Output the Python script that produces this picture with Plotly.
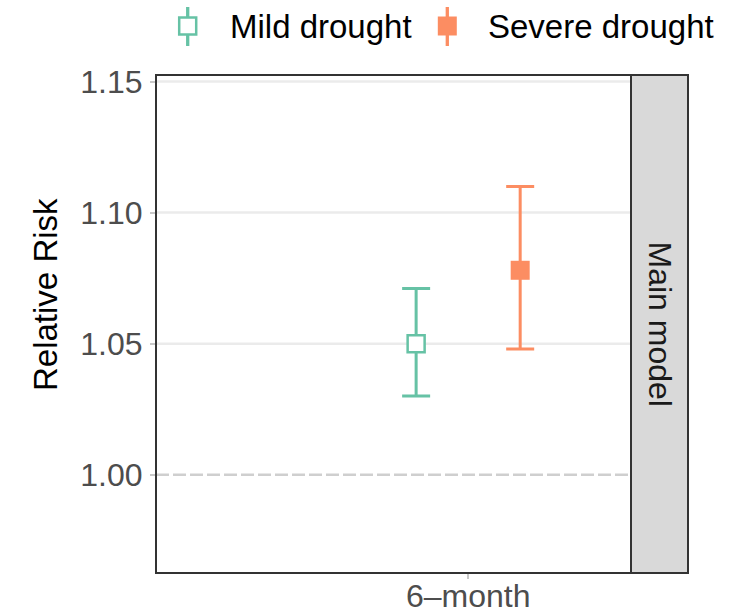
import plotly.graph_objects as go

# Relative risk estimates by drought severity
categories = ["6–month"]
groups = ["Mild drought", "Severe drought"]
rr = [1.050, 1.078]
rr_lower = [1.030, 1.048]
rr_upper = [1.071, 1.110]
y_ticks = [1.00, 1.05, 1.10, 1.15]
y_tick_labels = ["1.00", "1.05", "1.10", "1.15"]
reference_value = 1.00
facet_label = "Main model"
y_title = "Relative Risk"

colors = ["#66C2A5", "#FC8D62"]
fills = ["white", "#FC8D62"]
FONT = "Liberation Sans, Arial, sans-serif"

W, H = 736, 615
M_L, M_R, M_T, M_B = 156, 48, 75, 42
plot_w = W - M_L - M_R
plot_h = H - M_T - M_B
panel_right_px = 631
x_dom_end = (panel_right_px - M_L) / plot_w


def px_x(px):
    return (px - M_L) / plot_w


def px_y(py):
    return (M_T + plot_h - py) / plot_h


dodge = 0.4
fig = go.Figure()

for i, g in enumerate(groups):
    xpos = 0 + (i - (len(groups) - 1) / 2) * dodge
    fig.add_trace(go.Scatter(
        x=[xpos], y=[rr[i]],
        mode="markers",
        name=g,
        showlegend=False,
        marker=dict(symbol="square", size=17 if i == 0 else 19,
                    color=fills[i],
                    line=dict(color=colors[i], width=2.5 if i == 0 else 0)),
        error_y=dict(type="data", symmetric=False,
                     array=[rr_upper[i] - rr[i]],
                     arrayminus=[rr[i] - rr_lower[i]],
                     color=colors[i], thickness=3, width=14),
    ))

shapes = []
# horizontal grid lines
for v in y_ticks:
    if v == reference_value:
        continue
    shapes.append(dict(type="line", xref="x domain", yref="y",
                       x0=0, x1=1, y0=v, y1=v,
                       line=dict(color="#EBEBEB", width=2.5), layer="below"))
# reference line
shapes.append(dict(type="line", xref="x domain", yref="y",
                   x0=0, x1=1, y0=reference_value, y1=reference_value,
                   line=dict(color="#CFCFCF", width=2.5, dash="13px,4px"),
                   layer="below"))
# panel border
shapes.append(dict(type="rect", xref="x domain", yref="y domain",
                   x0=0, x1=1, y0=0, y1=1,
                   line=dict(color="#333333", width=2), fillcolor="rgba(0,0,0,0)"))
# facet strip
shapes.append(dict(type="rect", xref="paper", yref="paper",
                   x0=x_dom_end, x1=1, y0=0, y1=1,
                   line=dict(color="#333333", width=2), fillcolor="#D9D9D9"))

annotations = [
    dict(text=facet_label, xref="paper", yref="paper",
         x=(x_dom_end + 1) / 2, y=0.5, textangle=90,
         showarrow=False, xanchor="center", yanchor="middle",
         font=dict(family=FONT, size=32, color="#1A1A1A")),
    dict(text=y_title, xref="paper", yref="paper",
         x=px_x(45), y=px_y(295), textangle=-90,
         showarrow=False, xanchor="center", yanchor="middle",
         font=dict(family=FONT, size=33, color="#000000")),
]

# legend drawn at the top: point-range glyph + label
legend_glyph_x = [187.7, 447.3]
legend_text_x = [228, 486]
for i, g in enumerate(groups):
    cx = legend_glyph_x[i]
    shapes.append(dict(type="line", xref="paper", yref="paper",
                       x0=px_x(cx), x1=px_x(cx), y0=px_y(7), y1=px_y(46),
                       line=dict(color=colors[i], width=3.3)))
    half = 8.5 if i == 0 else 9.5
    shapes.append(dict(type="rect", xref="paper", yref="paper",
                       x0=px_x(cx - half), x1=px_x(cx + half),
                       y0=px_y(26 + half), y1=px_y(26 - half),
                       fillcolor=fills[i],
                       line=dict(color=colors[i], width=2.5 if i == 0 else 0)))
    annotations.append(dict(text=g, xref="paper", yref="paper",
                            x=px_x(legend_text_x[i]), y=px_y(27),
                            xanchor="left", yanchor="middle", showarrow=False,
                            font=dict(family=FONT, size=33, color="#000000")))

fig.update_layout(
    width=W, height=H,
    margin=dict(l=M_L, r=M_R, t=M_T, b=M_B, autoexpand=False),
    paper_bgcolor="white", plot_bgcolor="white",
    showlegend=False,
    shapes=shapes, annotations=annotations,
    xaxis=dict(domain=[0, x_dom_end], range=[-1.2, 0.626],
               tickvals=list(range(len(categories))), ticktext=categories,
               ticks="outside", ticklen=5, tickwidth=2, tickcolor="#C8C8C8",
               tickfont=dict(family=FONT, size=32, color="#4D4D4D"),
               ticklabelstandoff=-10,
               showgrid=False, zeroline=False, showline=False, fixedrange=True),
    yaxis=dict(range=[0.9625, 1.1525],
               tickvals=y_ticks, ticktext=y_tick_labels,
               ticks="outside", ticklen=5, tickwidth=2, tickcolor="#C8C8C8",
               tickfont=dict(family=FONT, size=32, color="#4D4D4D"),
               ticklabelstandoff=1,
               showgrid=False, zeroline=False, showline=False, fixedrange=True),
)

fig.write_html("out.html")
